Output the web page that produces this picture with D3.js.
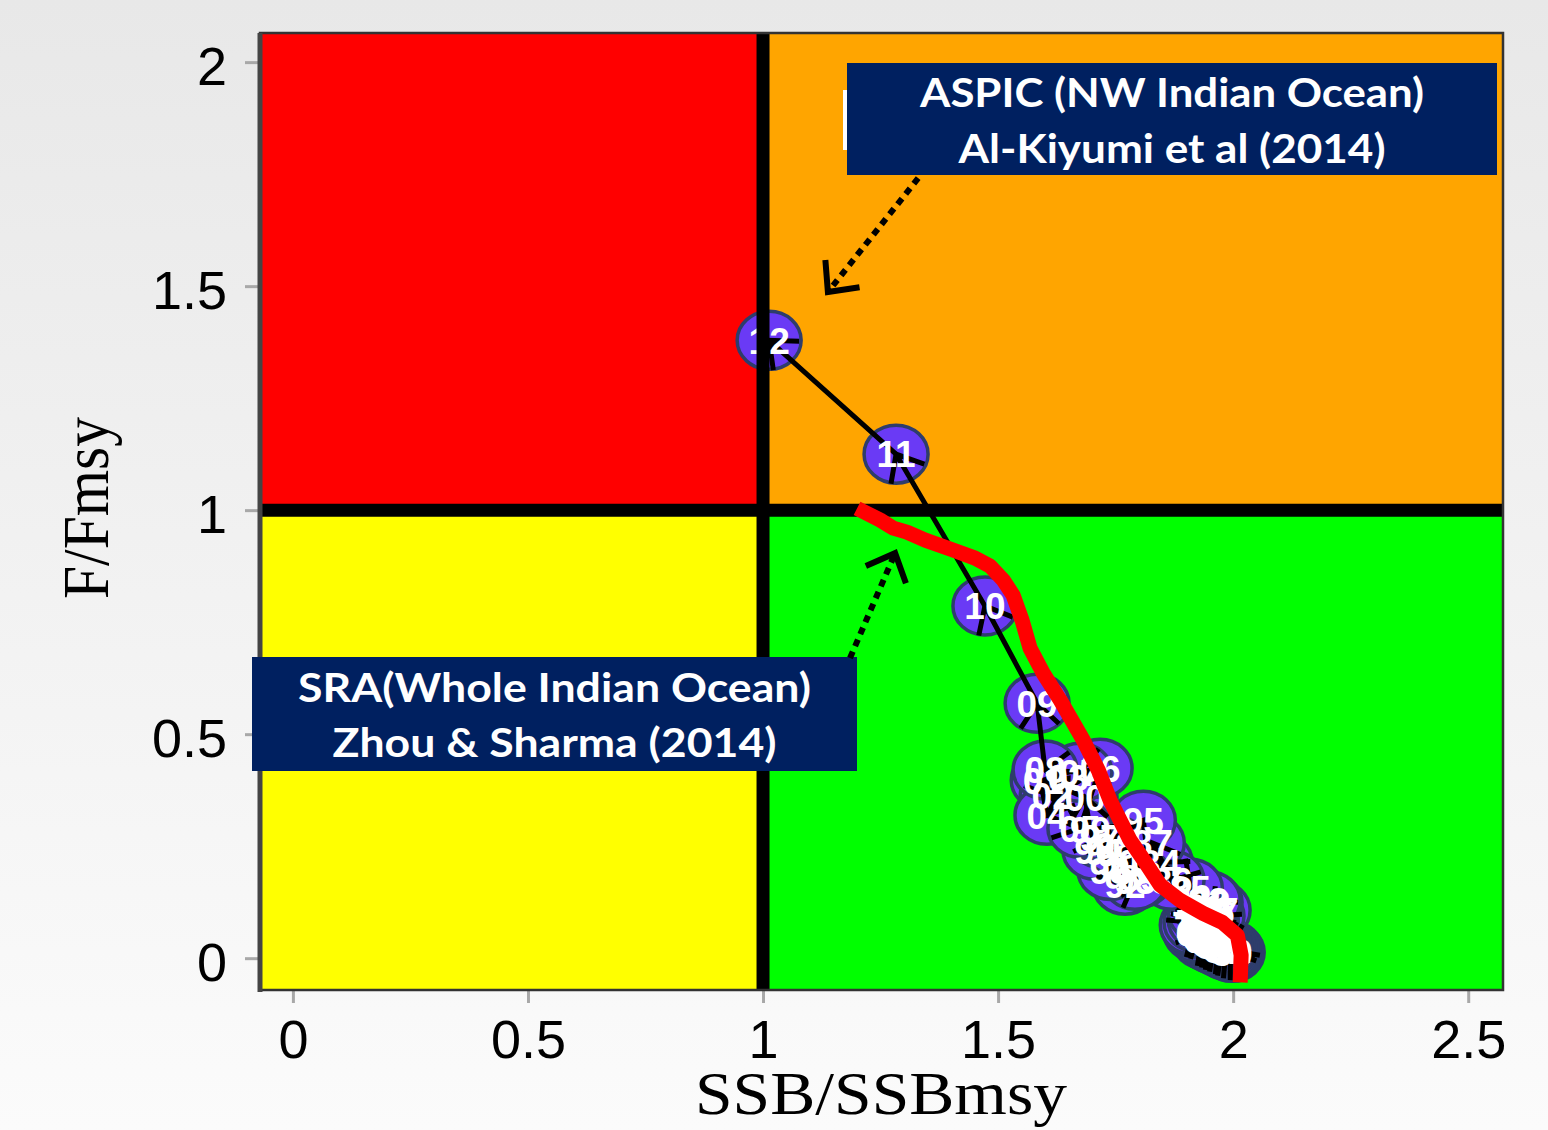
<!DOCTYPE html>
<html>
<head>
<meta charset="utf-8">
<script src="https://cdn.jsdelivr.net/npm/d3@7"></script>
<style>
  body { margin: 0; background: #f4f4f4; }
  svg { display: block; }
</style>
</head>
<body>
<svg id="chart" width="1548" height="1130"></svg>
<script>
// ASPIC trajectory, one point per year
var years = [1950,1951,1952,1953,1954,1955,1956,1957,1958,1959,
             1960,1961,1962,1963,1964,1965,1966,1967,1968,1969,
             1970,1971,1972,1973,1974,1975,1976,1977,1978,1979,
             1980,1981,1982,1983,1984,1985,1986,1987,1988,1989,
             1990,1991,1992,1993,1994,1995,1996,1997,1998,1999,
             2000,2001,2002,2003,2004,2005,2006,2007,2008,2009,
             2010,2011,2012];
var ssbRatio = [1.998,1.994,1.989,1.985,1.981,1.977,1.972,1.968,1.964,1.960,
                1.955,1.951,1.947,1.943,1.938,1.934,1.938,1.930,1.926,1.921,
                1.917,1.913,1.921,1.930,1.940,1.951,1.960,1.968,1.955,1.943,
                1.930,1.940,1.951,1.947,1.845,1.909,1.870,1.828,1.781,1.802,
                1.755,1.728,1.770,1.791,1.738,1.809,1.706,1.717,1.749,1.696,
                1.685,1.596,1.615,1.649,1.604,1.674,1.717,1.674,1.600,1.583,
                1.472,1.283,1.013];
var fRatio = [0.013,0.018,0.016,0.022,0.020,0.027,0.025,0.031,0.029,0.036,
              0.033,0.040,0.038,0.045,0.042,0.049,0.056,0.054,0.063,0.058,
              0.067,0.074,0.080,0.085,0.089,0.096,0.103,0.107,0.094,0.085,
              0.103,0.116,0.125,0.129,0.214,0.156,0.174,0.257,0.196,0.179,
              0.214,0.237,0.163,0.174,0.196,0.308,0.241,0.268,0.252,0.286,
              0.359,0.397,0.362,0.402,0.319,0.290,0.424,0.415,0.420,0.569,
              0.786,1.125,1.379];

// SRA trajectory (whole Indian Ocean), red line
var sraSSB = [1.200,1.249,1.277,1.306,1.345,1.404,1.451,1.483,1.511,1.532,
              1.551,1.568,1.596,1.632,1.681,1.713,1.738,1.781,1.813,1.845,
              1.887,1.936,1.977,2.009,2.017,2.015];
var sraF = [1.004,0.978,0.960,0.951,0.933,0.911,0.893,0.875,0.844,0.810,
            0.754,0.692,0.636,0.576,0.487,0.420,0.353,0.263,0.214,0.163,
            0.129,0.100,0.080,0.051,0.007,-0.054];

var xTicks = [0, 0.5, 1, 1.5, 2, 2.5];
var yTicks = [0, 0.5, 1, 1.5, 2];
var aspicText = ["ASPIC (NW Indian Ocean)", "Al-Kiyumi et al (2014)"];
var sraText = ["SRA(Whole Indian Ocean)", "Zhou & Sharma (2014)"];

var svg = d3.select("#chart");

// page background, light grey fading downwards
var defs = svg.append("defs");
var grad = defs.append("linearGradient")
    .attr("id", "bg").attr("x1", 0).attr("y1", 0).attr("x2", 0).attr("y2", 1);
grad.append("stop").attr("offset", "0%").attr("stop-color", "#e8e8e8");
grad.append("stop").attr("offset", "100%").attr("stop-color", "#fbfbfb");
svg.append("rect").attr("width", 1548).attr("height", 1130).attr("fill", "url(#bg)");

var x = d3.scaleLinear().domain([-0.07, 2.574]).range([260, 1503]),
    y = d3.scaleLinear().domain([-0.071, 2.065]).range([990, 33]);

var x0 = x.domain()[0], x1 = x.domain()[1],
    y0 = y.domain()[0], y1 = y.domain()[1];

// kobe quadrants
var quads = [
  {xa: x0, xb: 1, ya: 1, yb: y1, c: "#ff0000"},
  {xa: 1, xb: x1, ya: 1, yb: y1, c: "#ffa500"},
  {xa: x0, xb: 1, ya: y0, yb: 1, c: "#ffff00"},
  {xa: 1, xb: x1, ya: y0, yb: 1, c: "#00ff00"}
];
svg.append("g").selectAll("rect")
    .data(quads)
  .enter().append("rect")
    .attr("x", function(d) { return x(d.xa); })
    .attr("y", function(d) { return y(d.yb); })
    .attr("width", function(d) { return x(d.xb) - x(d.xa); })
    .attr("height", function(d) { return y(d.ya) - y(d.yb); })
    .attr("fill", function(d) { return d.c; });

// axes
var yAxis = svg.append("g")
    .attr("transform", "translate(258,0)")
    .call(d3.axisLeft(y).tickValues(yTicks).tickSize(13).tickPadding(18)
          .tickFormat(function(d) { return String(d); }));
var xAxis = svg.append("g")
    .attr("transform", "translate(0,991)")
    .call(d3.axisBottom(x).tickValues(xTicks).tickSize(12).tickPadding(17)
          .tickFormat(function(d) { return String(d); }));
[xAxis, yAxis].forEach(function(a) {
  a.select(".domain").remove();
  a.selectAll(".tick line").attr("stroke", "#a8a8a8").attr("stroke-width", 3);
  a.selectAll(".tick text")
      .attr("fill", "#000")
      .style("font-family", "'Liberation Sans', Arial, sans-serif")
      .style("font-size", "54px");
});
yAxis.selectAll(".tick text").attr("dy", "0.42em");

// points
var pts = years.map(function(yr, i) {
  return {label: String(yr).slice(2), px: x(ssbRatio[i]), py: y(fRatio[i])};
});

svg.append("g").selectAll("ellipse")
    .data(pts)
  .enter().append("ellipse")
    .attr("cx", function(d) { return d.px; })
    .attr("cy", function(d) { return d.py; })
    .attr("rx", 32)
    .attr("ry", 29)
    .attr("fill", "#6a3af5")
    .attr("stroke", "#2e3d6b")
    .attr("stroke-width", 3.5);

// arrows year to year
function arrowPath(ax, ay, bx, by, len, ang) {
  var t = Math.atan2(ay - by, ax - bx);
  var p1 = [bx + len * Math.cos(t + ang), by + len * Math.sin(t + ang)],
      p2 = [bx + len * Math.cos(t - ang), by + len * Math.sin(t - ang)];
  return "M" + p1 + "L" + bx + "," + by + "L" + p2;
}
var segs = d3.pairs(pts);
var arrows = svg.append("g").attr("stroke", "#000").attr("fill", "none");
arrows.selectAll(".seg")
    .data(segs)
  .enter().append("path")
    .attr("class", "seg")
    .attr("stroke-width", 5)
    .attr("d", function(d) {
      return "M" + d[0].px + "," + d[0].py + "L" + d[1].px + "," + d[1].py +
             arrowPath(d[0].px, d[0].py, d[1].px, d[1].py, 30, 0.7);
    });

// year labels
svg.append("g").selectAll("text")
    .data(pts)
  .enter().append("text")
    .attr("x", function(d) { return d.px; })
    .attr("y", function(d) { return d.py; })
    .attr("dy", "0.36em")
    .attr("text-anchor", "middle")
    .attr("fill", "#fff")
    .style("font-family", "'Liberation Sans', Arial, sans-serif")
    .style("font-weight", "bold")
    .style("font-size", "37px")
    .text(function(d) { return d.label; });

// reference lines at 1
svg.append("line")
    .attr("x1", x(1)).attr("x2", x(1)).attr("y1", y(y1)).attr("y2", y(y0))
    .attr("stroke", "#000").attr("stroke-width", 13);
svg.append("line")
    .attr("x1", x(x0)).attr("x2", x(x1)).attr("y1", y(1)).attr("y2", y(1))
    .attr("stroke", "#000").attr("stroke-width", 13);

// SRA trajectory
var sraLine = d3.line()
    .x(function(d, i) { return x(sraSSB[i]); })
    .y(function(d, i) { return y(sraF[i]); });
svg.append("path")
    .attr("d", sraLine(sraSSB))
    .attr("fill", "none")
    .attr("stroke", "#ff0000")
    .attr("stroke-width", 15)
    .attr("stroke-linejoin", "round");

// panel frame
svg.append("rect")
    .attr("x", 260).attr("y", 33).attr("width", 1243).attr("height", 957)
    .attr("fill", "none").attr("stroke", "#333").attr("stroke-width", 2.5);
svg.append("line")
    .attr("x1", 260).attr("x2", 260).attr("y1", 33).attr("y2", 992)
    .attr("stroke", "#444").attr("stroke-width", 5);

// axis titles
svg.append("text")
    .attr("x", 881).attr("y", 1114)
    .attr("text-anchor", "middle")
    .attr("textLength", 372).attr("lengthAdjust", "spacingAndGlyphs")
    .style("font-family", "'Liberation Serif', 'Times New Roman', serif")
    .style("font-size", "62px")
    .text("SSB/SSBmsy");
svg.append("text")
    .attr("transform", "translate(108,508) rotate(-90)")
    .attr("text-anchor", "middle")
    .attr("textLength", 182).attr("lengthAdjust", "spacingAndGlyphs")
    .style("font-family", "'Liberation Serif', 'Times New Roman', serif")
    .style("font-size", "66px")
    .text("F/Fmsy");

// annotation boxes
function noteBox(bx, by, bw, bh, lines, widths, baselines) {
  var g = svg.append("g");
  g.append("rect").attr("x", bx).attr("y", by).attr("width", bw).attr("height", bh)
      .attr("fill", "#002060");
  lines.forEach(function(t, i) {
    g.append("text")
        .attr("x", bx + bw / 2).attr("y", baselines[i])
        .attr("text-anchor", "middle")
        .attr("textLength", widths[i]).attr("lengthAdjust", "spacingAndGlyphs")
        .attr("fill", "#fff")
        .style("font-family", "Lato, 'Open Sans', sans-serif")
        .style("font-weight", "bold")
        .style("font-size", "40px")
        .text(t);
  });
}
svg.append("rect").attr("x", 843).attr("y", 90).attr("width", 4).attr("height", 60).attr("fill", "#fff");
noteBox(847, 63, 650, 112, aspicText, [504, 427], [107, 163]);
noteBox(252, 657, 605, 114, sraText, [513, 444], [702, 757]);

// dotted pointer arrows
function pointer(ax, ay, bx, by) {
  svg.append("path")
      .attr("d", "M" + ax + "," + ay + "L" + bx + "," + by)
      .attr("stroke", "#000").attr("stroke-width", 6)
      .attr("stroke-dasharray", "7 6").attr("fill", "none");
  svg.append("path")
      .attr("d", arrowPath(ax, ay, bx, by, 32, 0.75))
      .attr("stroke", "#000").attr("stroke-width", 6)
      .attr("fill", "none");
}
pointer(x(1.330), y(1.741), x(1.138), y(1.487));
pointer(x(1.185), y(0.670), x(1.281), y(0.904));
</script>
</body>
</html>
